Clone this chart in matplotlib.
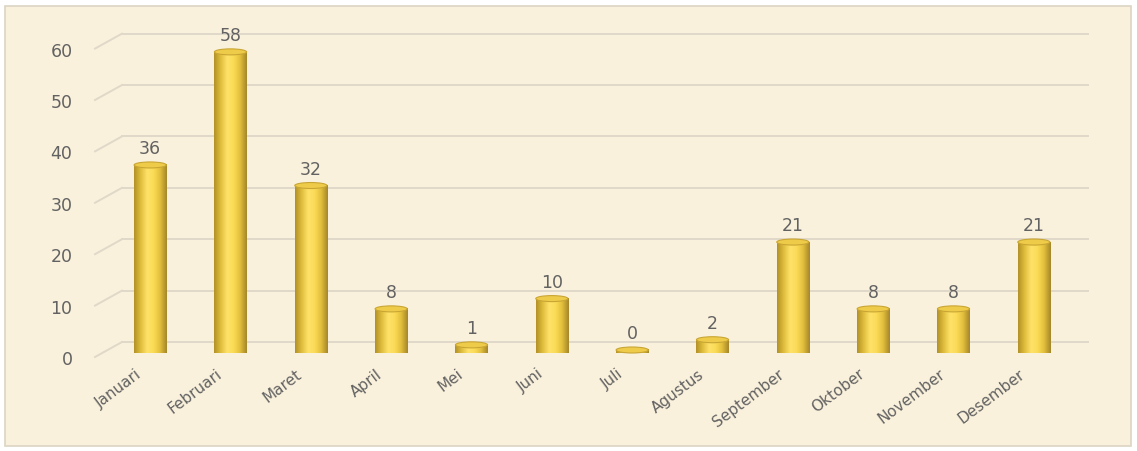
import numpy as np
import matplotlib
matplotlib.use("Agg")
import matplotlib.pyplot as plt
import matplotlib.transforms as mtransforms
from matplotlib.patches import Rectangle, Ellipse
from matplotlib.colors import LinearSegmentedColormap

bulan = ["Januari", "Februari", "Maret", "April", "Mei", "Juni", "Juli",
         "Agustus", "September", "Oktober", "November", "Desember"]
jumlah = [36, 58, 32, 8, 1, 10, 0, 2, 21, 8, 8, 21]
yticks = [0, 10, 20, 30, 40, 50, 60]

plt.rcParams['font.family'] = ['DejaVu Sans']
W, H, DPI = 1137, 451, 100
fig = plt.figure(figsize=(W / DPI, H / DPI), dpi=DPI)
fig.patch.set_facecolor("white")

# parchment panel with a thin border
fig.patches.append(Rectangle((5 / W, 5 / H), 1126 / W, 440 / H,
                             transform=fig.transFigure, facecolor="#FAF1DC",
                             edgecolor="#DCD4C4", lw=1.2, zorder=-10))

# y = 0 at 350 px from the top, 5.14 px per unit
ymax = 62
px_unit = 5.14
bottom_px = H - 350
ax = fig.add_axes([110 / W, bottom_px / H, 964 / W, ymax * px_unit / H])
ax.set_facecolor("none")
ax.set_xlim(-0.5, len(bulan) - 0.5)
ax.set_ylim(0, ymax)
for s in ax.spines.values():
    s.set_visible(False)

# back wall gridlines + the diagonal floor/wall edges on the left
grid_col = "#E0D8C8"
fig.canvas.draw()
for v in yticks:
    _, yd = ax.transData.transform((0, v))
    x_back0, x_back1 = 122, 1088
    ax.plot([x_back0, x_back1], [yd + 8, yd + 8], transform=None,
            color=grid_col, lw=1.4, zorder=1, clip_on=False)
    ax.plot([95, x_back0], [yd - 7, yd + 8], transform=None,
            color=grid_col, lw=1.4, zorder=1, clip_on=False)

# cylinder shading
cyl = LinearSegmentedColormap.from_list(
    "cyl", ["#B39128", "#E0BE3C", "#FFE26A", "#FBDB56", "#E2BF3C", "#A5872A"])
grad = np.linspace(0, 1, 64).reshape(1, -1)
bw = 0.4
ell_h = 6 / px_unit
txt_col = "#626262"

for i, v in enumerate(jumlah):
    x0, x1 = i - bw / 2, i + bw / 2
    if v > 0:
        ax.imshow(grad, cmap=cyl, extent=[x0, x1, 0, v], aspect="auto",
                  interpolation="bicubic", zorder=3, clip_on=False)
    # rounded bottom
    bot = Ellipse((i, 0), bw, ell_h, transform=ax.transData)
    im = ax.imshow(grad, cmap=cyl, extent=[x0, x1, -ell_h / 2, 0.01],
                   aspect="auto", interpolation="bicubic", zorder=2,
                   clip_on=False)
    im.set_clip_path(bot)
    # top cap
    ax.add_patch(Ellipse((i, v), bw, ell_h, facecolor="#EFCB4A",
                         edgecolor="#C9A633", lw=0.8, zorder=4, clip_on=False))
    ax.annotate(str(v), (i, v), xytext=(0, 5), textcoords="offset points",
                ha="center", va="bottom", fontsize=12.5, color=txt_col,
                zorder=5)

ax.set_xlim(-0.5, len(bulan) - 0.5)
ax.set_ylim(0, ymax)

ax.set_yticks(yticks)
ax.set_yticklabels([str(t) for t in yticks], fontsize=12.5, color=txt_col)
ax.tick_params(axis="y", length=0, pad=27)
for lbl in ax.get_yticklabels():
    lbl.set_transform(lbl.get_transform() +
                      mtransforms.ScaledTranslation(0, -8 / DPI, fig.dpi_scale_trans))

ax.set_xticks(range(len(bulan)))
ax.set_xticklabels(bulan, rotation=37, ha="right", va="top",
                   rotation_mode="anchor", fontsize=11, color=txt_col)
ax.tick_params(axis="x", length=0, pad=12)
for lbl in ax.get_xticklabels():
    lbl.set_transform(lbl.get_transform() +
                      mtransforms.ScaledTranslation(-15 / DPI, 0, fig.dpi_scale_trans))

fig.savefig("out.png", dpi=DPI)
